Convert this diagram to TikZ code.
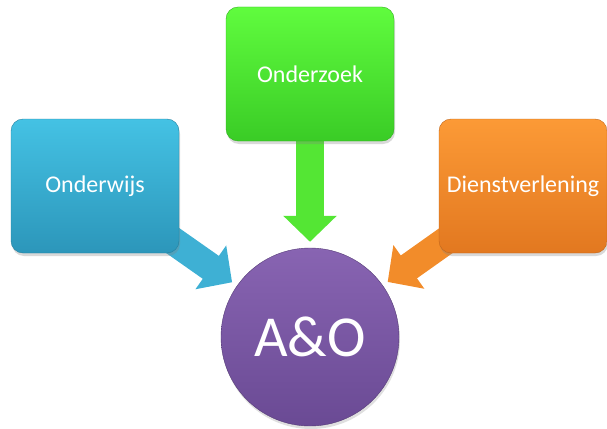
\documentclass[tikz,border=0pt]{standalone}
\usepackage{fontspec}
\setmainfont{Carlito}
\usetikzlibrary{arrows.meta,shadows,backgrounds}

\definecolor{blauwtop}{RGB}{68,194,228}
\definecolor{blauwbot}{RGB}{44,150,186}
\definecolor{blauwpijl}{RGB}{62,176,212}
\definecolor{groentop}{RGB}{96,252,62}
\definecolor{groenbot}{RGB}{58,204,38}
\definecolor{groenpijl}{RGB}{84,230,52}
\definecolor{oranjetop}{RGB}{252,154,54}
\definecolor{oranjebot}{RGB}{226,120,32}
\definecolor{oranjepijl}{RGB}{242,140,42}
\definecolor{paarstop}{RGB}{136,100,178}
\definecolor{paarsbot}{RGB}{106,74,148}

\tikzset{
  taak/.style={rectangle, rounded corners=12pt, minimum width=168pt,
    minimum height=134pt, text=white, font=\fontsize{24}{28}\selectfont,
    drop shadow={opacity=0.3, shadow xshift=1pt, shadow yshift=-3pt}},
  pijl/.style={line width=28pt, -{Triangle[length=26pt, width=52pt]},
    shorten >=6pt},
}

\begin{document}
\begin{tikzpicture}[x=1pt,y=1pt]

      \useasboundingbox (0,0) rectangle (607,-428);

      \begin{scope}[every node/.style={taak}]
        \node[shading=axis, top color=blauwtop, bottom color=blauwbot, draw=blauwbot!85!black, thin] (onderwijs) at (95,-186) {Onderwijs};
        \node[shading=axis, top color=groentop, bottom color=groenbot, draw=groenbot!85!black, thin] (onderzoek) at (310,-74) {Onderzoek};
        \node[shading=axis, top color=oranjetop, bottom color=oranjebot, draw=oranjebot!85!black, thin] (dienst) at (523,-186) {Dienstverlening};
      \end{scope}

      \node[circle, minimum size=178pt, inner sep=0pt, text=white,
        font=\fontsize{58}{64}\selectfont, shading=axis, top color=paarstop,
        bottom color=paarsbot, draw=paarsbot!80!black, thin,
        drop shadow={opacity=0.25, shadow xshift=1pt, shadow yshift=-3pt}]
        (ao) at (310,-337) {A\&O};

      % pijlen achter de vakken
      \begin{scope}[on background layer]
        \path (onderwijs.center) edge[pijl, draw=blauwpijl] (ao);
        \path (onderzoek.center) edge[pijl, draw=groenpijl] (ao);
        \path (dienst.center)    edge[pijl, draw=oranjepijl] (ao);
      \end{scope}

    \end{tikzpicture}
\end{document}
